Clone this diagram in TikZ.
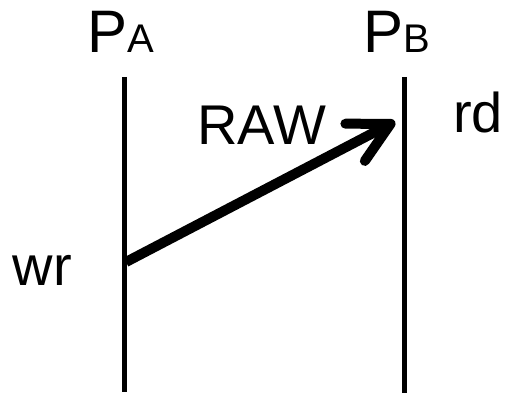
\documentclass[tikz,border=0pt]{standalone}
\usepackage{fontspec}
\setmainfont{Liberation Sans}
\usetikzlibrary{arrows.meta}
\begin{document}
\begin{tikzpicture}[x=1pt,y=-1pt,
  lifeline/.style={line width=5pt},
  msg/.style={line width=10pt,-{Straight Barb[length=40pt,width=42pt,line cap=round,line join=round]}},
  big/.style={anchor=base west,inner sep=0pt,font=\fontsize{56}{56}\selectfont},
  proc/.style={anchor=base west,inner sep=0pt,font=\fontsize{60}{60}\selectfont}]
\useasboundingbox (0,0) rectangle (509,393);
\coordinate (atop) at (124,77);
\coordinate (abot) at (124,392);
\coordinate (btop) at (404.5,77);
\coordinate (bbot) at (404.5,393);
\draw[lifeline] (atop) -- (abot);
\draw[lifeline] (btop) -- (bbot);
\node[proc] (pa) at (87.5,53) {P{\fontsize{40}{40}\selectfont A}};
\node[proc] (pb) at (363.5,53) {P{\fontsize{40}{40}\selectfont B}};
\coordinate (wrpt) at (126,262);
\coordinate (rdpt) at (395,121.5);
\draw[msg] (wrpt) -- (rdpt);
\node[big] (raw) at (197.3,145) {RAW};
\node[big] (rd) at (453,133) {rd};
\node[big] (wr) at (12.6,285) {wr};
\end{tikzpicture}
\end{document}
